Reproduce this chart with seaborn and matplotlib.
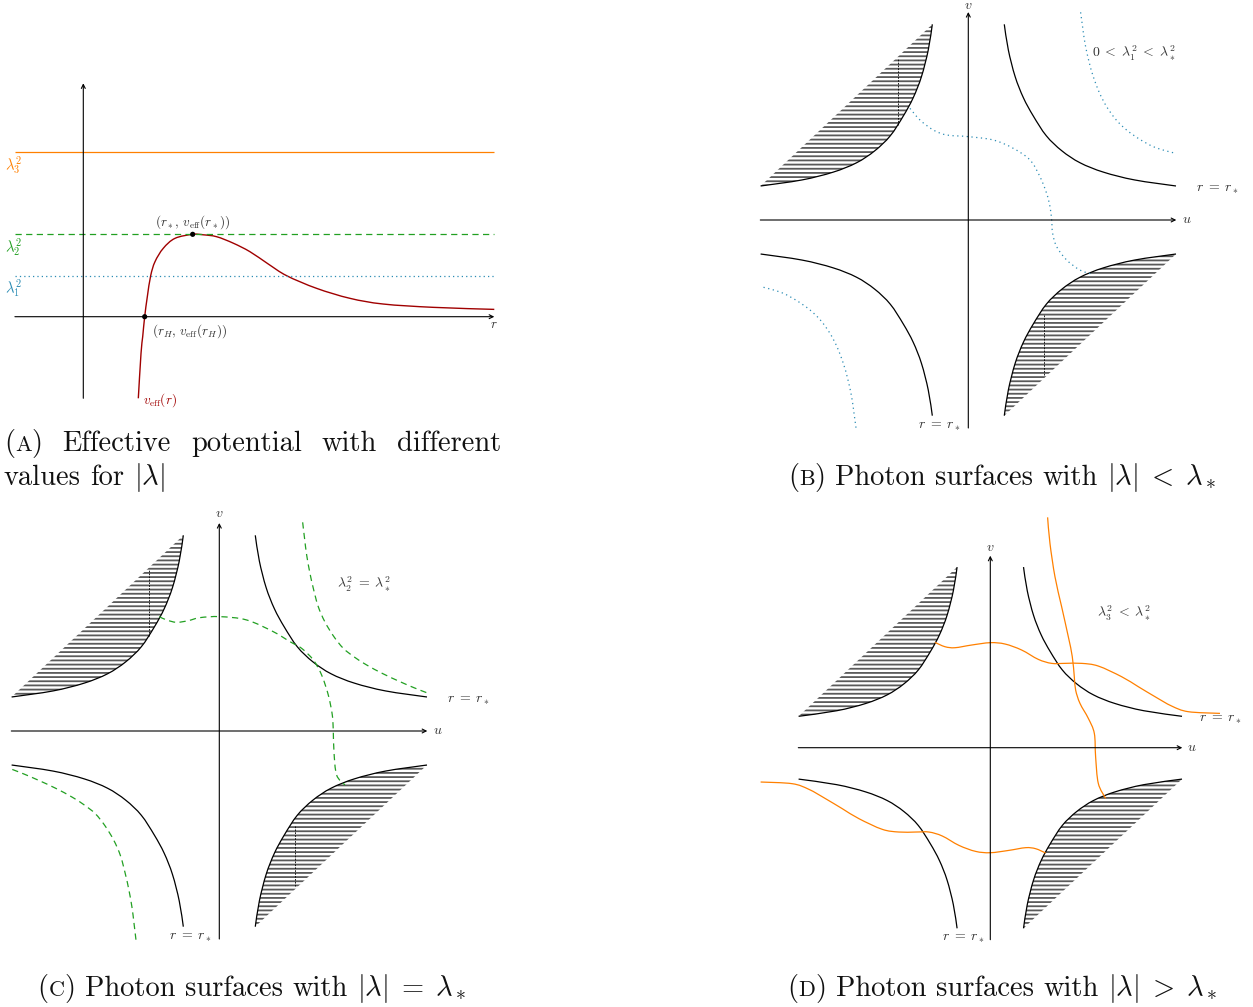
import numpy as np
import matplotlib
matplotlib.use("Agg")
import matplotlib.pyplot as plt
from matplotlib.path import Path
from matplotlib.patches import PathPatch
import seaborn as sns

sns.set_theme(style="white")
plt.rcParams["font.family"] = ["cmr10", "DejaVu Serif"]
plt.rcParams["mathtext.fontset"] = "cm"
plt.rcParams["axes.formatter.use_mathtext"] = True
plt.rcParams["hatch.linewidth"] = 1.3

W, H = 1253, 1007
ORANGE = "#ff8000"
GREEN = "#22a022"
BLUE = "#2b8cb4"
DARKRED = "#a00000"
HATCH = "#5a5a5a"
LABEL = "#333333"

# (A) effective potential, r along the axis, value upwards
r_curve = [0.917, 0.962, 0.99, 1.023, 1.067, 1.123, 1.195, 1.333, 1.528, 1.823,
           2.0, 2.223, 2.5, 2.778, 3.08, 3.39, 3.89, 4.445, 5.0, 5.833, 6.85]
v_curve = [-1.36, -0.61, -0.333, 0.0, 0.333, 0.683, 0.917, 1.14, 1.306, 1.373,
           1.365, 1.333, 1.225, 1.083, 0.88, 0.683, 0.472, 0.306, 0.211, 0.156, 0.122]
lambda_sq = [0.683, 1.373, 2.745]          # lambda_1^2, lambda_2^2, lambda_3^2
r_horizon = 1.023
r_star = 1.823

# r = r_* curve, upper right branch (u, v); the other three are mirror images
hyp_u = [0.692, 0.77, 0.9, 1.06, 1.25, 1.5, 1.8, 2.15, 2.6, 3.2, 3.994]
hyp_v = [3.763, 3.27, 2.76, 2.35, 2.0, 1.62, 1.33, 1.1, 0.92, 0.77, 0.654]

# (B) lambda_1
b_outer_u = [2.16, 2.2, 2.244, 2.32, 2.404, 2.52, 2.66, 2.84, 3.045, 3.3, 3.558, 3.8, 3.994]
b_outer_v = [3.994, 3.7, 3.397, 3.05, 2.756, 2.45, 2.18, 1.93, 1.73, 1.55, 1.41, 1.33, 1.282]
b_mid_u = [-1.122, -0.929, -0.673, -0.417, 0.0, 0.481, 0.865, 1.186, 1.378, 1.506,
           1.571, 1.603, 1.622, 1.699, 1.891, 2.147, 2.372]
b_mid_v = [2.147, 1.923, 1.731, 1.635, 1.603, 1.538, 1.378, 1.154, 0.833, 0.513,
           0.256, 0.0, -0.256, -0.513, -0.769, -0.962, -1.038]

# (C) lambda_2
c_outer_u = [1.603, 1.64, 1.68, 1.74, 1.808, 1.9, 2.03, 2.2, 2.385, 2.6, 2.833, 3.15, 3.474, 3.75, 3.987]
c_outer_v = [4.013, 3.7, 3.385, 3.05, 2.744, 2.4, 2.10, 1.82, 1.59, 1.42, 1.27, 1.1, 0.949, 0.83, 0.737]
c_mid_u = [-1.154, -1.013, -0.821, -0.596, -0.372, 0.013, 0.526, 1.038, 1.359, 1.583,
           1.808, 1.968, 2.096, 2.173, 2.192, 2.205, 2.256, 2.417]
c_mid_v = [2.199, 2.135, 2.09, 2.122, 2.18, 2.199, 2.135, 1.91, 1.718, 1.59,
           1.365, 1.077, 0.692, 0.308, 0.0, -0.397, -0.846, -1.038]

# (D) lambda_3
d_vert_u = [1.194, 1.243, 1.347, 1.486, 1.625, 1.708, 1.75, 1.778, 1.868, 2.042,
            2.167, 2.194, 2.25, 2.403]
d_vert_v = [4.799, 4.257, 3.563, 2.938, 2.313, 1.896, 1.479, 1.201, 0.924, 0.611,
            0.299, -0.188, -0.743, -1.056]
d_top_u = [-1.153, -0.944, -0.736, -0.389, 0.0, 0.306, 0.653, 1.0, 1.278, 1.556,
           1.903, 2.25, 2.736, 3.083, 3.431, 3.778, 4.125, 4.785]
d_top_v = [2.194, 2.104, 2.083, 2.139, 2.188, 2.16, 2.035, 1.84, 1.757, 1.757,
           1.757, 1.701, 1.479, 1.271, 1.063, 0.868, 0.75, 0.715]

# dashed markers inside the hatching: (u, v_from, v_to)
mark_ul = [-1.35, 1.82, 3.11]
mark_lr = [1.46, -1.83, -2.98]

fig = plt.figure(figsize=(W / 100, H / 100), dpi=100)


def panel(x0, y0, x1, y1, ox, oy, unit):
    ax = fig.add_axes([x0 / W, 1 - y1 / H, (x1 - x0) / W, (y1 - y0) / H])
    ax.set_axis_off()
    lims = ((x0 - ox) / unit, (x1 - ox) / unit, (oy - y1) / unit, (oy - y0) / unit)
    return ax, lims


def arrow(ax, start, end):
    ax.annotate("", xy=end, xytext=start,
                arrowprops=dict(arrowstyle="->", lw=0.8, color="black",
                                shrinkA=0, shrinkB=0, mutation_scale=7))


def smooth_path(x, y, close=False):
    # cubic bezier segments through the read points, like tikz "plot[smooth]"
    p = np.column_stack([np.asarray(x, float), np.asarray(y, float)])
    verts = [p[0]]
    codes = [Path.MOVETO]
    n = len(p)
    for i in range(n - 1):
        p0 = p[i - 1] if i > 0 else p[i]
        p3 = p[i + 2] if i + 2 < n else p[i + 1]
        verts += [p[i] + (p[i + 1] - p0) / 6, p[i + 1] - (p3 - p[i]) / 6, p[i + 1]]
        codes += [Path.CURVE4] * 3
    if close:
        verts.append(p[0])
        codes.append(Path.CLOSEPOLY)
    return Path(verts, codes)


def curve(ax, x, y, color="black", lw=0.9, ls="-"):
    ax.add_patch(PathPatch(smooth_path(x, y), fill=False, edgecolor=color,
                           linewidth=lw, linestyle=ls, capstyle="butt"))


def hatched(ax, x, y):
    ax.add_patch(PathPatch(smooth_path(x, y, close=True), facecolor="none",
                           edgecolor=HATCH, hatch="----", linewidth=0))


def small(ax, x, y, s, color=LABEL, size=10, ha="center"):
    ax.text(x, y, s, ha=ha, va="center", fontsize=size, color=color)


def spacetime(ax, marks=True, vy=4.17):
    u = np.asarray(hyp_u)
    v = np.asarray(hyp_v)
    hatched(ax, -u, v)
    hatched(ax, u, -v)
    curve(ax, u, v)
    curve(ax, -u, -v)
    curve(ax, -u, v)
    curve(ax, u, -v)
    if marks:
        for m in (mark_ul, mark_lr):
            ax.vlines(m[0], m[1], m[2], colors="black", linewidth=0.6,
                      linestyles=(0, (2, 1.5)))
    arrow(ax, (-4, 0), (4, 0))
    arrow(ax, (0, -4), (0, 4))
    small(ax, 0, vy, r"$v$")
    small(ax, 4.2, 0, r"$u$")
    small(ax, 4.79, 0.59, r"$r\;=\;r_*$")
    small(ax, -0.56, -3.97, r"$r\;=\;r_*$")


# ---- (A)
axA, limA = panel(0, 60, 510, 415, 83.3, 316.7, 60)
colors = [BLUE, GREEN, ORANGE]
styles = [(0, (1, 2.5)), (0, (5, 3.5)), "-"]
for lev, col, ls in zip(lambda_sq, colors, styles):
    axA.hlines(lev, -1.14, 6.85, colors=col, linewidth=0.9, linestyles=ls)
arrow(axA, (-1.14, 0), (6.85, 0))
arrow(axA, (0, -1.36), (0, 3.89))
curve(axA, r_curve, v_curve, color=DARKRED, lw=1.0)
sns.scatterplot(x=[r_horizon, r_star], y=[0, lambda_sq[1]], s=14, color="black",
                edgecolor="none", zorder=5, ax=axA, legend=False)
for lev, col, name in zip(lambda_sq, colors, ["1", "2", "3"]):
    small(axA, -1.155, lev - 0.21, r"$\lambda_%s^2$" % name, color=col, size=10.5)
small(axA, r_star, lambda_sq[1] + 0.21, r"$(r_*,\, v_{\mathrm{eff}}(r_*))$", size=9.5)
small(axA, 1.14, -0.238, r"$(r_H,\, v_{\mathrm{eff}}(r_H))$", size=9.5, ha="left")
small(axA, 0.997, -1.39, r"$v_{\mathrm{eff}}(r)$", color=DARKRED, size=9.5, ha="left")
small(axA, 6.85, -0.14, r"$r$", size=9.5)
axA.set_xlim(limA[0], limA[1])
axA.set_ylim(limA[2], limA[3])

# ---- (B)
axB, limB = panel(755, 0, 1253, 440, 968.3, 220, 52)
spacetime(axB, vy=4.12)
dot = (0, (1, 2.8))
curve(axB, b_outer_u, b_outer_v, color=BLUE, ls=dot)
curve(axB, -np.asarray(b_outer_u), -np.asarray(b_outer_v), color=BLUE, ls=dot)
curve(axB, b_mid_u, b_mid_v, color=BLUE, ls=dot)
small(axB, 3.19, 3.21, r"$0\;<\;\lambda_1^2\;<\;\lambda_*^2$")
axB.set_xlim(limB[0], limB[1])
axB.set_ylim(limB[2], limB[3])

# ---- (C)
axC, limC = panel(0, 505, 500, 950, 219.3, 731, 52)
spacetime(axC)
dash = (0, (5, 3.5))
curve(axC, c_outer_u, c_outer_v, color=GREEN, ls=dash)
curve(axC, -np.asarray(c_outer_u), -np.asarray(c_outer_v), color=GREEN, ls=dash)
curve(axC, c_mid_u, c_mid_v, color=GREEN, ls=dash)
small(axC, 2.78, 2.81, r"$\lambda_2^2\;=\;\lambda_*^2$")
axC.set_xlim(limC[0], limC[1])
axC.set_ylim(limC[2], limC[3])

# ---- (D)
axD, limD = panel(755, 505, 1253, 960, 990.3, 747.7, 48)
spacetime(axD, marks=False)
curve(axD, d_vert_u, d_vert_v, color=ORANGE)
curve(axD, d_top_u, d_top_v, color=ORANGE)
curve(axD, -np.asarray(d_top_u), -np.asarray(d_top_v), color=ORANGE)
small(axD, 2.785, 2.8, r"$\lambda_3^2\;<\;\lambda_*^2$")
axD.set_xlim(limD[0], limD[1])
axD.set_ylim(limD[2], limD[3])


# ---- captions
def caption(words, y, size, left=None, right=None, center=None):
    renderer = fig.canvas.get_renderer()
    items = []
    for word in words:
        pieces = []
        for s, scale in word:
            t = fig.text(0, 0, s, fontsize=size * scale, va="baseline", color="#111111")
            pieces.append((t, t.get_window_extent(renderer).width))
        items.append(pieces)
    widths = [sum(w for _, w in p) for p in items]
    gap = size * 100 / 72 * 0.333
    if left is not None and right is not None:
        gap = (right - left - sum(widths)) / (len(items) - 1)
        x = left
    elif left is not None:
        x = left
    else:
        total = sum(widths) + gap * (len(items) - 1)
        x = center - total / 2
    for pieces in items:
        for t, w in pieces:
            t.set_position((x / W, 1 - y / H))
            x += w
        x += gap


def tag(letter):
    return [("(", 1), (letter, 0.78), (")", 1)]


CAP = 20.5
caption([tag("A"), [("Effective", 1)], [("potential", 1)], [("with", 1)], [("different", 1)]],
        451, CAP, left=4, right=501)
caption([[("values", 1)], [("for", 1)], [(r"$|\lambda|$", 1)]], 485, CAP, left=4)
caption([tag("B"), [("Photon", 1)], [("surfaces", 1)], [("with", 1)],
         [(r"$|\lambda|\;<\;\lambda_*$", 1)]], 485, CAP, center=1002)
caption([tag("C"), [("Photon", 1)], [("surfaces", 1)], [("with", 1)],
         [(r"$|\lambda|\;=\;\lambda_*$", 1)]], 996, CAP, center=252)
caption([tag("D"), [("Photon", 1)], [("surfaces", 1)], [("with", 1)],
         [(r"$|\lambda|\;>\;\lambda_*$", 1)]], 996, CAP, center=1002)

fig.savefig("out.png", dpi=100)
